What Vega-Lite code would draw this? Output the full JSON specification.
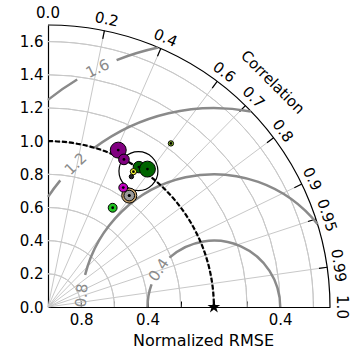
{
  "$schema": "https://vega.github.io/schema/vega-lite/v6.json",
  "autosize": "none",
  "padding": {"left": 48, "top": 25, "right": 25, "bottom": 47},
  "width": 282,
  "height": 282,
  "config": {"view": {"stroke": null}, "font": "DejaVu Sans", "text": {"font": "DejaVu Sans"}},
  "datasets": {
    "gridArcs": [
      {"x": 0, "y": 0, "r": 0.2, "t1": 0, "t2": 90},
      {"x": 0, "y": 0, "r": 0.4, "t1": 0, "t2": 90},
      {"x": 0, "y": 0, "r": 0.6, "t1": 0, "t2": 90},
      {"x": 0, "y": 0, "r": 0.8, "t1": 0, "t2": 90},
      {"x": 0, "y": 0, "r": 1.0, "t1": 0, "t2": 90},
      {"x": 0, "y": 0, "r": 1.2, "t1": 0, "t2": 90},
      {"x": 0, "y": 0, "r": 1.4, "t1": 0, "t2": 90},
      {"x": 0, "y": 0, "r": 1.6, "t1": 0, "t2": 90}
    ],
    "outerArc": [{"x": 0, "y": 0, "r": 1.7, "t1": 0, "t2": 90}],
    "rmseArcs": [
      {"x": 1, "y": 0, "r": 0.4, "t1": -90, "t2": -70},
      {"x": 1, "y": 0, "r": 0.4, "t1": -42, "t2": 90},
      {"x": 1, "y": 0, "r": 0.8, "t1": -76, "t2": 51.4},
      {"x": 1, "y": 0, "r": 1.2, "t1": -56.4, "t2": -50.5},
      {"x": 1, "y": 0, "r": 1.2, "t1": -37, "t2": 10.7},
      {"x": 1, "y": 0, "r": 1.6, "t1": -38.7, "t2": -31},
      {"x": 1, "y": 0, "r": 1.6, "t1": -21.5, "t2": -12.1}
    ],
    "refArc": [{"x": 0, "y": 0, "r": 1.0, "t1": 0, "t2": 90}],
    "corrLines": [
      {"c": 0.2, "x": 0, "y": 0, "x2": 0.34, "y2": 1.6657},
      {"c": 0.4, "x": 0, "y": 0, "x2": 0.68, "y2": 1.5581},
      {"c": 0.6, "x": 0, "y": 0, "x2": 1.02, "y2": 1.36},
      {"c": 0.7, "x": 0, "y": 0, "x2": 1.19, "y2": 1.214},
      {"c": 0.8, "x": 0, "y": 0, "x2": 1.36, "y2": 1.02},
      {"c": 0.9, "x": 0, "y": 0, "x2": 1.53, "y2": 0.741},
      {"c": 0.95, "x": 0, "y": 0, "x2": 1.615, "y2": 0.5308},
      {"c": 0.99, "x": 0, "y": 0, "x2": 1.683, "y2": 0.2398}
    ],
    "corrTicks": [
      {"c": 0.2, "x": 0.33, "y": 1.6167, "x2": 0.34, "y2": 1.6657},
      {"c": 0.4, "x": 0.66, "y": 1.5122, "x2": 0.68, "y2": 1.5581},
      {"c": 0.6, "x": 0.99, "y": 1.32, "x2": 1.02, "y2": 1.36},
      {"c": 0.7, "x": 1.155, "y": 1.1783, "x2": 1.19, "y2": 1.214},
      {"c": 0.8, "x": 1.32, "y": 0.99, "x2": 1.36, "y2": 1.02},
      {"c": 0.9, "x": 1.485, "y": 0.7192, "x2": 1.53, "y2": 0.741},
      {"c": 0.95, "x": 1.5675, "y": 0.5152, "x2": 1.615, "y2": 0.5308},
      {"c": 0.99, "x": 1.6335, "y": 0.2328, "x2": 1.683, "y2": 0.2398}
    ],
    "corrLabels": [
      {"label": "0.0", "x": 0, "y": 1.77, "rot": 0},
      {"label": "0.2", "x": 0.354, "y": 1.7342, "rot": 11.54},
      {"label": "0.4", "x": 0.708, "y": 1.6222, "rot": 23.58},
      {"label": "0.6", "x": 1.062, "y": 1.416, "rot": 36.87},
      {"label": "0.7", "x": 1.239, "y": 1.264, "rot": 44.43},
      {"label": "0.8", "x": 1.416, "y": 1.062, "rot": 53.13},
      {"label": "0.9", "x": 1.593, "y": 0.7715, "rot": 64.16},
      {"label": "0.95", "x": 1.6815, "y": 0.5527, "rot": 71.81},
      {"label": "0.99", "x": 1.7523, "y": 0.2497, "rot": 81.89},
      {"label": "1.0", "x": 1.77, "y": 0, "rot": 90}
    ],
    "rmseLabels": [
      {"label": "0.4", "x": 0.668, "y": 0.224, "rot": -56},
      {"label": "0.8", "x": 0.203, "y": 0.07, "rot": -85},
      {"label": "1.2", "x": 0.166, "y": 0.863, "rot": -44},
      {"label": "1.6", "x": 0.299, "y": 1.438, "rot": -26}
    ],
    "axisTitle": [{"label": "Correlation", "x": 1.355, "y": 1.355, "rot": 45}],
    "obs": [{"x": 0.5452, "y": 0.8193, "s": 22}],
    "models": [
      {"model": "P1", "x": 0.4235, "y": 0.9458, "s": 9, "dot": true},
      {"model": "P2", "x": 0.4578, "y": 0.8898, "s": 6, "dot": true},
      {"model": "G1", "x": 0.5482, "y": 0.8434, "s": 6.5, "dot": true},
      {"model": "G2", "x": 0.5994, "y": 0.8313, "s": 9, "dot": true},
      {"model": "K", "x": 0.503, "y": 0.786, "s": 2.5, "dot": false},
      {"model": "Y", "x": 0.515, "y": 0.816, "s": 3.5, "dot": true},
      {"model": "T", "x": 0.4898, "y": 0.6717, "s": 8.5, "dot": true},
      {"model": "GR", "x": 0.4898, "y": 0.6717, "s": 6, "dot": true},
      {"model": "M", "x": 0.4536, "y": 0.7199, "s": 5, "dot": true},
      {"model": "BG", "x": 0.3898, "y": 0.5982, "s": 5, "dot": true},
      {"model": "YG", "x": 0.741, "y": 0.9861, "s": 3, "dot": true}
    ],
    "ref": [{"x": 1, "y": 0}]
  },
  "encoding": {
    "x": {"field": "x", "type": "quantitative", "scale": {"domain": [0, 1.7], "nice": false, "zero": false},
      "axis": {"values": [0.2, 0.4, 0.6, 0.8, 1.0, 1.2, 1.4, 1.6],
        "labelExpr": "(abs(datum.value-0.2)<0.01 || abs(datum.value-0.6)<0.01 || abs(datum.value-1.4)<0.01) ? format(abs(1-datum.value),'.1f') : ''",
        "title": "Normalized RMSE", "grid": false, "tickSize": -6, "tickColor": "black", "tickWidth": 1,
        "domainColor": "black", "domainWidth": 1.2, "labelPadding": 11, "labelFontSize": 15, "labelFont": "DejaVu Sans",
        "labelColor": "black", "labelFlush": false, "labelOverlap": false,
        "titleFont": "DejaVu Sans", "titleFontSize": 16, "titleFontWeight": "normal", "titleColor": "black",
        "titleX": 155, "titleY": 38, "titleBaseline": "alphabetic", "titleAlign": "center"}},
    "y": {"field": "y", "type": "quantitative", "scale": {"domain": [0, 1.7], "nice": false, "zero": false},
      "axis": {"values": [0, 0.2, 0.4, 0.6, 0.8, 1.0, 1.2, 1.4, 1.6], "format": ".1f", "title": null, "grid": false,
        "ticks": false, "domainColor": "black", "domainWidth": 1.2, "labelPadding": 5, "labelFontSize": 15,
        "labelFont": "DejaVu Sans", "labelColor": "black", "labelFlush": false, "labelOverlap": false}}
  },
  "layer": [
    {
      "data": {"name": "corrLines"},
      "mark": {"type": "rule", "color": "#c8c8c8", "strokeWidth": 1},
      "encoding": {"x2": {"field": "x2"}, "y2": {"field": "y2"}}
    },
    {
      "data": {"name": "gridArcs"},
      "mark": {"type": "arc", "filled": false, "stroke": "#c8c8c8", "strokeWidth": 1, "strokeJoin": "bevel"},
      "encoding": {
        "theta": {"field": "t1", "type": "quantitative", "scale": {"domain": [0, 360], "range": [0, 6.283185307]}, "stack": null},
        "theta2": {"field": "t2"},
        "radius": {"field": "r", "type": "quantitative", "scale": {"type": "linear", "domain": [0, 1.7], "range": [0, 282], "zero": true}},
        "radius2": {"field": "r"}
      }
    },
    {
      "data": {"name": "outerArc"},
      "mark": {"type": "arc", "filled": false, "stroke": "black", "strokeWidth": 1.2, "strokeJoin": "bevel"},
      "encoding": {
        "theta": {"field": "t1", "type": "quantitative", "scale": {"domain": [0, 360], "range": [0, 6.283185307]}, "stack": null},
        "theta2": {"field": "t2"},
        "radius": {"field": "r", "type": "quantitative", "scale": {"type": "linear", "domain": [0, 1.7], "range": [0, 282], "zero": true}},
        "radius2": {"field": "r"}
      }
    },
    {
      "data": {"name": "corrTicks"},
      "mark": {"type": "rule", "color": "black", "strokeWidth": 1.2},
      "encoding": {"x2": {"field": "x2"}, "y2": {"field": "y2"}}
    },
    {
      "data": {"name": "rmseArcs"},
      "mark": {"type": "arc", "filled": false, "stroke": "#8a8a8a", "strokeWidth": 2.5, "strokeJoin": "bevel"},
      "encoding": {
        "theta": {"field": "t1", "type": "quantitative", "scale": {"domain": [0, 360], "range": [0, 6.283185307]}, "stack": null},
        "theta2": {"field": "t2"},
        "radius": {"field": "r", "type": "quantitative", "scale": {"type": "linear", "domain": [0, 1.7], "range": [0, 282], "zero": true}},
        "radius2": {"field": "r"}
      }
    },
    {
      "data": {"name": "rmseLabels"},
      "mark": {"type": "text", "color": "#8a8a8a", "fontSize": 15, "align": "center", "baseline": "middle", "font": "DejaVu Sans"},
      "encoding": {"text": {"field": "label"}, "angle": {"field": "rot", "type": "quantitative", "scale": null}}
    },
    {
      "data": {"name": "refArc"},
      "mark": {"type": "arc", "filled": false, "stroke": "black", "strokeWidth": 2.2, "strokeJoin": "bevel",
        "strokeDash": [5,2,5,2,5,2,5,2,5,2,5,2,5,2,5,2,5,2,5,2,5,2,5,2,5,2,5,2,5,2,5,2,5,2,5,2,5,2,5,2,5,2,5,2,5,2,5,2,5,2,5,2,5,2,5,2,5,2,5,2,5,2,5,2,5,2,5,2,5,2,5,2,5,300]},
      "encoding": {
        "theta": {"field": "t1", "type": "quantitative", "scale": {"domain": [0, 360], "range": [0, 6.283185307]}, "stack": null},
        "theta2": {"field": "t2"},
        "radius": {"field": "r", "type": "quantitative", "scale": {"type": "linear", "domain": [0, 1.7], "range": [0, 282], "zero": true}},
        "radius2": {"field": "r"}
      }
    },
    {
      "data": {"name": "obs"},
      "mark": {"type": "point", "shape": "circle", "filled": false, "stroke": "black", "strokeWidth": 1.2, "opacity": 1},
      "encoding": {"size": {"field": "s", "type": "quantitative", "scale": {"type": "pow", "exponent": 2, "domain": [0, 30], "range": [0, 2827.43]}, "legend": null}}
    },
    {
      "data": {"name": "models"},
      "mark": {"type": "point", "shape": "circle", "filled": true, "stroke": "black", "strokeWidth": 1, "opacity": 1},
      "encoding": {
        "color": {"field": "model", "type": "nominal", "legend": null,
          "scale": {"domain": ["P1", "P2", "G1", "G2", "K", "Y", "T", "GR", "M", "BG", "YG"],
            "range": ["#800080", "#800080", "#006400", "#006400", "#222222", "#ffff33", "#c8a46e", "#999999", "#c000c0", "#22c322", "#9acd32"]}},
        "size": {"field": "s", "type": "quantitative", "scale": {"type": "pow", "exponent": 2, "domain": [0, 30], "range": [0, 2827.43]}, "legend": null}
      }
    },
    {
      "data": {"name": "models"},
      "transform": [{"filter": "datum.dot"}],
      "mark": {"type": "point", "shape": "circle", "filled": true, "color": "black", "size": 8, "opacity": 1}
    },
    {
      "data": {"name": "ref"},
      "mark": {"type": "point", "shape": "M0,-1L0.2245,-0.309L0.951,-0.309L0.3633,0.118L0.588,0.809L0,0.382L-0.588,0.809L-0.3633,0.118L-0.951,-0.309L-0.2245,-0.309Z", "filled": true, "color": "black", "size": 180, "opacity": 1}
    },
    {
      "data": {"name": "corrLabels"},
      "mark": {"type": "text", "color": "black", "fontSize": 15, "align": "center", "baseline": "middle", "font": "DejaVu Sans"},
      "encoding": {"text": {"field": "label"}, "angle": {"field": "rot", "type": "quantitative", "scale": null}}
    },
    {
      "data": {"name": "axisTitle"},
      "mark": {"type": "text", "color": "black", "fontSize": 15, "align": "center", "baseline": "middle", "font": "DejaVu Sans"},
      "encoding": {"text": {"field": "label"}, "angle": {"field": "rot", "type": "quantitative", "scale": null}}
    }
  ]
}
